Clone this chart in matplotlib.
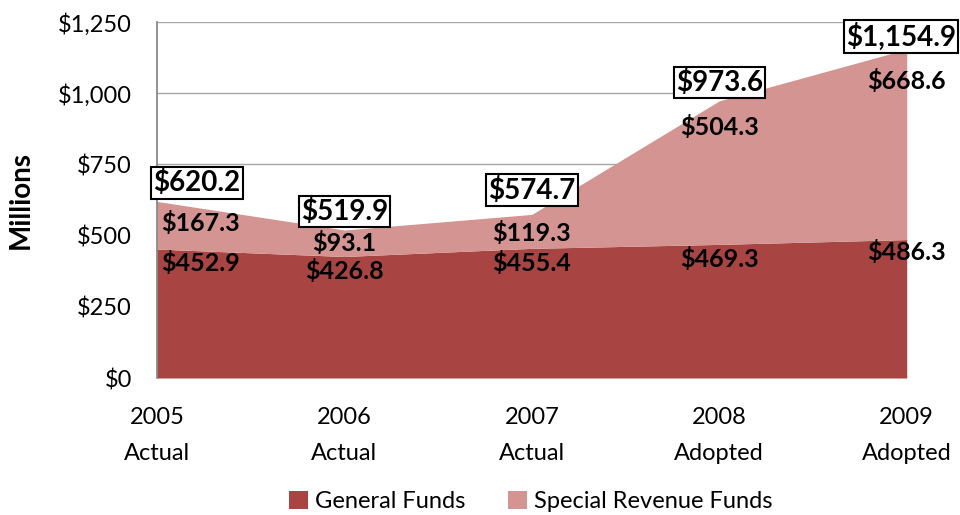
import matplotlib.pyplot as plt
from matplotlib.patches import Patch

years = ["2005\nActual", "2006\nActual", "2007\nActual", "2008\nAdopted", "2009\nAdopted"]
general = [452.9, 426.8, 455.4, 469.3, 486.3]
special = [167.3, 93.1, 119.3, 504.3, 668.6]
totals = [620.2, 519.9, 574.7, 973.6, 1154.9]

# label nudges (data units) so the texts sit like the original
gen_off = [-50, -50, -50, -50, -45]
spec_off = [-75, -45, -65, -92, -111]
tot_off = [65, 65, 85, 65, 45]

plt.rcParams["font.family"] = ["Lato", "DejaVu Sans"]

gen_col = "#A84542"
spec_col = "#D39492"

fig = plt.figure(figsize=(9.6, 5.15), dpi=100)
ax = fig.add_axes([0.1635, 0.266, 0.781, 0.691])
x = list(range(len(years)))
tops = [g + s for g, s in zip(general, special)]

ax.fill_between(x, 0, general, color=gen_col, linewidth=0, zorder=2)
ax.fill_between(x, general, tops, color=spec_col, linewidth=0, zorder=2)

ax.set_xlim(0, 4)
ax.set_ylim(0, 1250)
ax.set_yticks([0, 250, 500, 750, 1000, 1250])
ax.set_yticklabels(["${:,}".format(v) for v in [0, 250, 500, 750, 1000, 1250]], fontsize=17)
ax.set_xticks(x)
ax.set_xticklabels(years, fontsize=17, linespacing=1.9)
ax.tick_params(axis="y", length=0, pad=18)
ax.tick_params(axis="x", length=0, pad=21)
ax.grid(axis="y", color="#A6A6A6", linewidth=1, zorder=0)
for side in ["top", "right", "bottom"]:
    ax.spines[side].set_visible(False)
ax.spines["left"].set_color("#808080")
ax.spines["left"].set_linewidth(1.2)
ax.spines["left"].set_zorder(3)
ax.set_ylabel("Millions", fontsize=20, fontweight="bold")
ax.yaxis.set_label_coords(-0.164, 0.5)

for i in x:
    ha = "left" if i == 0 else "center"
    xi = i + 0.02 if i == 0 else i
    ax.text(xi, general[i] + gen_off[i], "${:,.1f}".format(general[i]), ha=ha, va="center",
            fontsize=18, fontweight="bold", zorder=4)
    ax.text(xi, tops[i] + spec_off[i], "${:,.1f}".format(special[i]), ha=ha, va="center",
            fontsize=18, fontweight="bold", zorder=4)
    tx = i - 0.02 if i == 0 else (i - 0.03 if i == 4 else i)
    ax.text(tx, totals[i] + tot_off[i], "${:,.1f}".format(totals[i]), ha=ha, va="center",
            fontsize=20, fontweight="bold", zorder=5, clip_on=False,
            bbox=dict(boxstyle="square,pad=0.08", facecolor="white", edgecolor="black", linewidth=1.5))

handles = [Patch(facecolor=gen_col, label="General Funds"),
           Patch(facecolor=spec_col, label="Special Revenue Funds")]
fig.legend(handles=handles, loc="lower center", bbox_to_anchor=(0.553, -0.035), ncol=2, frameon=False,
           fontsize=17, handlelength=0.8, handleheight=0.8, handletextpad=0.3, columnspacing=1.8)

fig.savefig("out.png", dpi=100)
